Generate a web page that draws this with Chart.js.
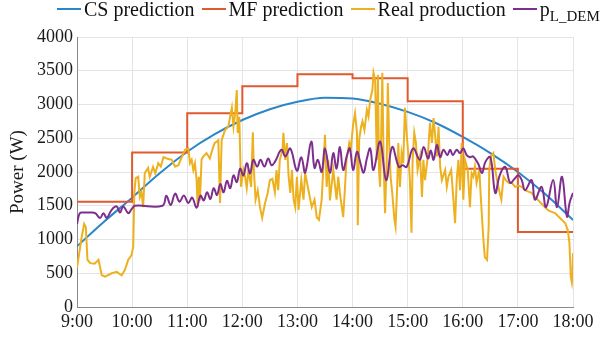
<!DOCTYPE html>
<html>
<head>
<meta charset="utf-8">
<script src="https://cdn.jsdelivr.net/npm/chart.js@4.4.1/dist/chart.umd.min.js"></script>
<style>
  html, body { margin: 0; padding: 0; background: #fff; }
  #wrap { position: relative; width: 606px; height: 338px; overflow: hidden; }
  #legend { position: absolute; top: -1px; left: 57px; display: flex; align-items: flex-start;
            font-family: "Liberation Serif", "Times New Roman", serif; font-size: 20px; line-height: 20px; color: #111; white-space: nowrap; }
  .item { display: flex; align-items: flex-start; margin-right: 7px; }
  .sym { display: inline-block; width: 24px; height: 2px; margin-top: 9px; margin-right: 3px; }
  sub { font-size: 15px; vertical-align: -5px; line-height: 0; }
</style>
</head>
<body>
<div id="wrap">
  <canvas id="c" width="606" height="338"></canvas>
  <div id="legend"></div>
</div>
<script>
// ---- Data ----
const hourLabels = ['9:00','10:00','11:00','12:00','13:00','14:00','15:00','16:00','17:00','18:00'];
const powerTicks = ['0','500','1000','1500','2000','2500','3000','3500','4000'];
const seriesNames = ['CS prediction', 'MF prediction', 'Real production', 'p'];

// CS prediction (W), half-hourly from 9:00
const csTime = [9,9.5,10,10.5,11,11.5,12,12.5,13,13.5,14,14.5,15,15.5,16,16.5,17,17.5,18];
const csPower = [900,1270,1620,1980,2300,2560,2770,2930,3040,3100,3090,3010,2890,2730,2520,2280,2000,1670,1290];

// MF prediction (W), hourly steps
const mfTime = [9,10,11,12,13,14,15,16,17,18];
const mfPower = [1560,2290,2870,3270,3450,3390,3050,2050,1110,1110];

// Real production (W)
const realTime = [9.00,9.085,9.13,9.16,9.19,9.24,9.32,9.39,9.45,9.51,9.63,9.72,9.81,9.87,9.93,9.99,10.02,10.04,10.065,10.11,10.14,10.17,10.20,10.23,10.29,10.32,10.38,10.42,10.475,10.52,10.57,10.63,10.72,10.78,10.84,10.90,10.96,11.02,11.05,11.08,11.11,11.14,11.17,11.19,11.21,11.23,11.26,11.29,11.35,11.41,11.47,11.50,11.535,11.565,11.595,11.625,11.685,11.745,11.81,11.84,11.87,11.90,11.915,11.945,11.975,12.02,12.05,12.08,12.11,12.16,12.19,12.21,12.24,12.28,12.32,12.36,12.41,12.46,12.50,12.545,12.59,12.62,12.65,12.68,12.73,12.745,12.78,12.81,12.84,12.87,12.90,12.93,12.96,12.99,13.02,13.07,13.11,13.14,13.20,13.26,13.31,13.35,13.39,13.44,13.50,13.53,13.56,13.59,13.65,13.71,13.74,13.77,13.83,13.86,13.89,13.94,13.97,14.01,14.045,14.08,14.095,14.12,14.155,14.18,14.215,14.26,14.29,14.32,14.36,14.38,14.41,14.44,14.46,14.48,14.50,14.53,14.54,14.565,14.59,14.62,14.64,14.665,14.69,14.72,14.76,14.78,14.81,14.83,14.86,14.89,14.92,14.95,14.98,15.01,15.04,15.07,15.09,15.12,15.15,15.18,15.225,15.26,15.285,15.315,15.365,15.405,15.44,15.47,15.50,15.53,15.56,15.59,15.62,15.68,15.71,15.74,15.79,15.83,15.86,15.89,15.92,15.95,15.98,16.01,16.04,16.09,16.13,16.16,16.19,16.22,16.25,16.30,16.33,16.37,16.40,16.44,16.47,16.48,16.51,16.555,16.59,16.62,16.66,16.70,16.74,16.78,16.83,16.89,16.95,17.01,17.07,17.13,17.19,17.25,17.31,17.37,17.43,17.49,17.55,17.615,17.675,17.735,17.80,17.86,17.905,17.935,17.96,17.98,17.99,18.00];
const realPower = [580,1040,1230,1180,700,650,640,700,470,450,500,520,470,550,700,770,890,1690,1910,1930,1630,1700,1480,1985,2060,1930,2075,1980,2130,2080,2220,2200,2180,2080,2100,2220,2330,2350,2130,2180,2030,2130,1880,1480,1930,1580,2180,2230,2280,2200,2370,2430,2450,2470,1540,2470,2620,2670,2950,2670,2870,3215,2580,2820,1780,2030,1930,1760,2030,1780,2590,2030,1590,1730,1480,1320,1530,1690,1880,1900,1700,2030,1730,2180,2330,2580,2180,2430,1930,1690,2030,1590,1480,1930,1440,1880,1590,1985,1730,1480,1590,1330,1290,1590,2550,1780,2180,1580,2030,1590,1930,1690,1330,1730,2180,2430,2350,2700,2870,2580,1210,2480,2670,2750,2620,2920,2820,3070,3215,3470,3360,2180,3440,2030,1780,3000,3470,2080,1390,2180,3320,2430,1930,1690,1290,1190,1780,2430,1780,2280,2130,2950,2580,2280,1880,1100,2180,2580,2430,2030,2230,1630,2180,1880,2230,2730,2430,2800,2530,2230,2670,2080,1880,2030,1780,1930,2030,1590,1240,1880,2180,1730,2430,1590,2180,2030,1480,1980,1930,2080,1840,2030,1590,1040,740,700,1190,2030,2230,2280,2030,1880,1730,1590,1930,1880,1840,1840,1780,1800,1780,1730,1710,1690,1630,1580,1530,1480,1430,1410,1390,1340,1290,1240,1140,950,450,360,450,800];

// p_L_DEM (W)
const demTime = [9.00,9.05,9.13,9.25,9.33,9.42,9.48,9.54,9.63,9.72,9.78,9.84,9.93,9.99,10.05,10.55,10.62,10.70,10.78,10.86,10.94,11.02,11.09,11.17,11.24,11.30,11.36,11.42,11.48,11.54,11.60,11.66,11.72,11.78,11.84,11.90,11.96,12.02,12.08,12.14,12.20,12.27,12.33,12.40,12.47,12.53,12.59,12.71,12.78,12.87,12.99,13.07,13.14,13.25,13.31,13.37,13.44,13.50,13.59,13.65,13.71,13.77,13.83,13.90,13.95,14.01,14.08,14.14,14.20,14.26,14.32,14.38,14.50,14.61,14.72,14.84,14.91,14.98,15.10,15.22,15.29,15.37,15.42,15.47,15.53,15.59,15.65,15.72,15.77,15.82,15.89,15.95,16.01,16.07,16.13,16.19,16.28,16.35,16.41,16.50,16.59,16.67,16.77,16.86,16.94,17.01,17.07,17.13,17.25,17.31,17.43,17.51,17.64,17.71,17.80,17.89,17.94,18.00];
const demPower = [1230,1390,1400,1400,1390,1320,1390,1320,1440,1490,1400,1490,1390,1450,1500,1500,1650,1510,1680,1560,1650,1540,1620,1470,1650,1580,1700,1600,1760,1660,1820,1700,1870,1760,1950,1850,2050,1950,2130,1980,2180,2080,2180,2080,2200,2100,2150,2330,2230,2350,2020,2220,1990,2450,2060,2180,2000,2350,1990,2280,2050,2370,2030,2250,2350,2030,2300,2140,1990,2200,2350,2030,2450,1880,2370,2075,2100,2075,2350,2180,2370,2200,2320,2180,2400,2220,2330,2250,2330,2250,2330,2280,2350,2250,2220,2230,2120,1985,2150,2220,1690,1950,2075,1840,1900,1950,1880,1730,1880,1590,1780,1480,1880,1480,1930,1340,1550,1690];

const colors = ['#2a86c8', '#e05a2e', '#edb120', '#7e2f8e'];

// ---- Build ----
const pts = (t, v) => t.map((x, i) => ({x: x, y: v[i]}));

// HTML legend (for subscript)
const legend = document.getElementById('legend');
seriesNames.forEach((name, i) => {
  const it = document.createElement('div');
  it.className = 'item';
  const s = document.createElement('span');
  s.className = 'sym';
  s.style.background = colors[i];
  const t = document.createElement('span');
  if (i === 3) { t.innerHTML = 'p<sub>L_DEM</sub>'; } else { t.textContent = name; }
  it.appendChild(s); it.appendChild(t);
  legend.appendChild(it);
});

const serif = '"Liberation Serif", "Times New Roman", serif';

new Chart(document.getElementById('c'), {
  type: 'line',
  data: {
    datasets: [
      { label: seriesNames[0], data: pts(csTime, csPower), borderColor: colors[0], borderWidth: 2, pointRadius: 0, tension: 0.4, cubicInterpolationMode: 'monotone', order: 3 },
      { label: seriesNames[1], data: pts(mfTime, mfPower), borderColor: colors[1], borderWidth: 2, pointRadius: 0, stepped: true, order: 2 },
      { label: seriesNames[2], data: pts(realTime, realPower), borderColor: colors[2], borderWidth: 2, pointRadius: 0, tension: 0, order: 1 },
      { label: 'p_L_DEM', data: pts(demTime, demPower), borderColor: colors[3], borderWidth: 2, pointRadius: 0, tension: 0.4, order: 0 }
    ]
  },
  options: {
    responsive: false,
    animation: false,
    devicePixelRatio: 1,
    layout: { padding: { top: 37, right: 33, left: 0, bottom: 0 } },
    plugins: { legend: { display: false }, tooltip: { enabled: false } },
    scales: {
      x: {
        type: 'linear', min: 9, max: 18,
        afterFit: s => { s.height = 31; },
        ticks: { stepSize: 1, autoSkip: false, maxRotation: 0, padding: 4,
                 font: { family: serif, size: 18 }, color: '#1a1a1a',
                 callback: v => hourLabels[Math.round(v) - 9] },
        grid: { color: '#e4e4e4', lineWidth: 1, drawTicks: false },
        border: { color: '#8a8a8a', width: 1 }
      },
      y: {
        min: 0, max: 4000,
        afterFit: s => { s.width = 77; },
        ticks: { stepSize: 500, padding: 4, font: { family: serif, size: 18 }, color: '#1a1a1a',
                 callback: v => powerTicks[Math.round(v / 500)] },
        grid: { color: '#e4e4e4', lineWidth: 1, drawTicks: false },
        border: { color: '#8a8a8a', width: 1 },
        title: { display: true, text: 'Power (W)', font: { family: serif, size: 19 }, color: '#1a1a1a', padding: { top: 7, bottom: 0 } }
      }
    }
  }
});
</script>
</body>
</html>
